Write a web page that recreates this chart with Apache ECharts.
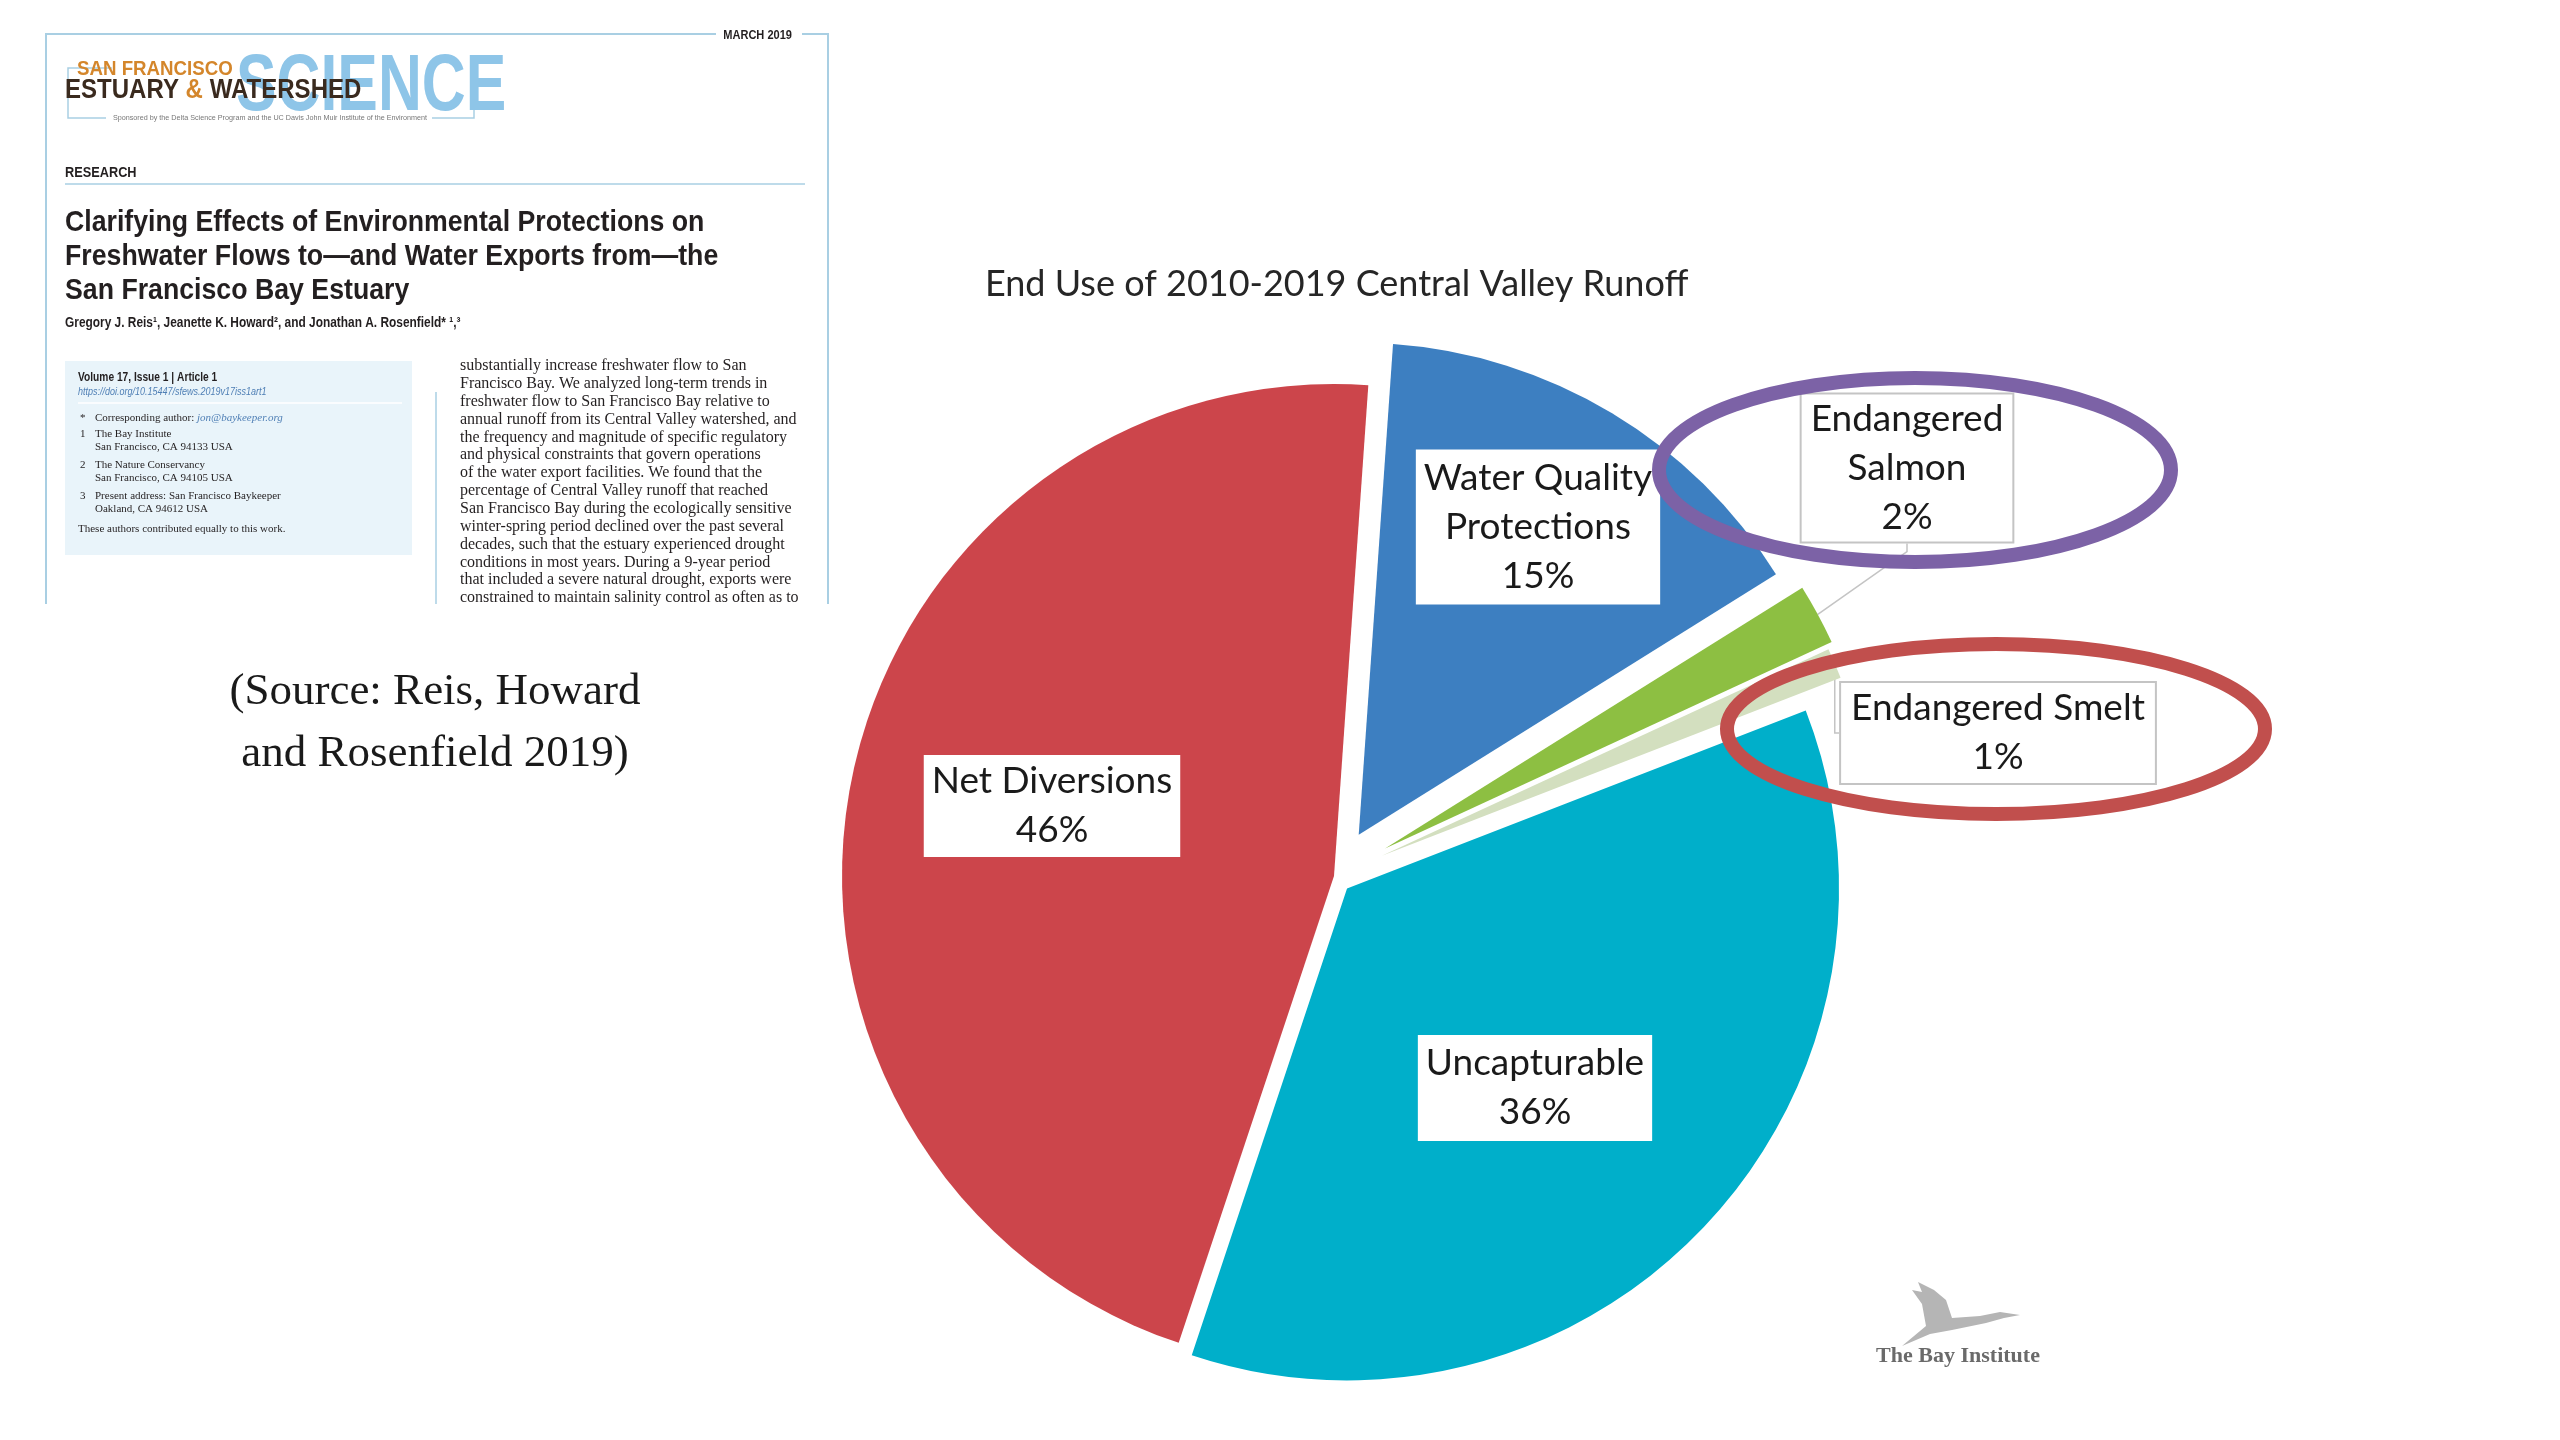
<!DOCTYPE html>
<html>
<head>
<meta charset="utf-8">
<title>End Use of 2010-2019 Central Valley Runoff</title>
<script src="https://cdn.jsdelivr.net/npm/echarts@6/dist/echarts.min.js"></script>
<style>
  html, body { margin: 0; padding: 0; background: #fff; }
  #main { width: 2560px; height: 1440px; }
</style>
</head>
<body>
<div id="main"></div>
<script>
// slices, clockwise from the top
var sliceNames = ['Water Quality\nProtections', 'Endangered\nSalmon', 'Endangered Smelt', 'Uncapturable', 'Net Diversions'];
var sliceValues = [15, 2, 1, 36, 46];

// look of each slice
var sliceColors = ['#3d7fc1', '#8dbf42', '#d3dfbf', '#00afca', '#cc454b'];
var sliceOffsets = [48, 58, 52, 18, 0];
var labelCenters = [[1538, 527], [1907, 468], [1998, 733], [1535, 1088], [1052, 806]];
var labelPads = [[4, 8], [0, 9], [1, 10], [4, 8], [2, 8]];

// journal page text on the left
var paperTitle = ['Clarifying Effects of Environmental Protections on',
    'Freshwater Flows to\u2014and Water Exports from\u2014the',
    'San Francisco Bay Estuary'];
var infoLines = [
    ['*', 'Corresponding author: ', 'jon@baykeeper.org'],
    ['1', 'The Bay Institute', ''],
    ['', 'San Francisco, CA 94133 USA', ''],
    ['2', 'The Nature Conservancy', ''],
    ['', 'San Francisco, CA 94105 USA', ''],
    ['3', 'Present address: San Francisco Baykeeper', ''],
    ['', 'Oakland, CA 94612 USA', '']
];
var infoY = [418, 434, 447, 465, 478, 496, 509];
var bodyLines = [
    'substantially increase freshwater flow to San',
    'Francisco Bay. We analyzed long-term trends in',
    'freshwater flow to San Francisco Bay relative to',
    'annual runoff from its Central Valley watershed, and',
    'the frequency and magnitude of specific regulatory',
    'and physical constraints that govern operations',
    'of the water export facilities. We found that the',
    'percentage of Central Valley runoff that reached',
    'San Francisco Bay during the ecologically sensitive',
    'winter-spring period declined over the past several',
    'decades, such that the estuary experienced drought',
    'conditions in most years. During a 9-year period',
    'that included a severe natural drought, exports were',
    'constrained to maintain salinity control as often as to'
];

var SANS = '"Liberation Sans", Arial, sans-serif';
var SERIF = '"Liberation Serif", "DejaVu Serif", serif';
var LABEL_FONT = 'Lato, "Open Sans", sans-serif';

var PIE_CENTER = [1334, 876];
var PIE_RADIUS = 492;
var START_ANGLE = 86;

var myChart = echarts.init(document.getElementById('main'));

function txt(x, y, s, size, opts) {
    opts = opts || {};
    return {
        type: 'text', x: x, y: y, z: opts.z || 10, silent: true,
        scaleX: opts.sx || 1,
        style: {
            text: s,
            fontSize: size,
            fontFamily: opts.family || SANS,
            fontWeight: opts.weight || 'normal',
            fontStyle: opts.style || 'normal',
            fill: opts.color || '#231f20',
            textAlign: opts.align || 'left',
            textVerticalAlign: 'middle'
        }
    };
}

// one pie series per slice, each pulled out along its own bisector
var total = 0;
for (var s = 0; s < sliceValues.length; s++) total += sliceValues[s];

function makeSeries(k, cum) {
    var data = [];
    for (var i = 0; i < sliceValues.length; i++) {
        var item = { name: sliceNames[i], value: sliceValues[i] };
        if (i === k) {
            item.itemStyle = { color: sliceColors[i] };
            item.label = { padding: labelPads[i] };
        } else {
            item.itemStyle = { color: 'rgba(0,0,0,0)' };
            item.label = { show: false };
            item.labelLine = { show: false };
        }
        data.push(item);
    }
    var mid = (START_ANGLE - 360 * (cum + sliceValues[k] / 2) / total) * Math.PI / 180;
    var outside = (k === 1 || k === 2);
    return {
        type: 'pie',
        center: [PIE_CENTER[0] + sliceOffsets[k] * Math.cos(mid), PIE_CENTER[1] - sliceOffsets[k] * Math.sin(mid)],
        radius: [0, PIE_RADIUS],
        startAngle: START_ANGLE,
        clockwise: true,
        percentPrecision: 0,
        avoidLabelOverlap: false,
        animation: false,
        silent: true,
        emphasis: { disabled: true },
        z: 2,
        label: {
            show: true,
            position: outside ? 'outside' : 'inside',
            formatter: '{b}\n{d}%',
            fontFamily: LABEL_FONT,
            fontSize: 37,
            lineHeight: 49,
            color: '#1a1a1a',
            align: 'center',
            backgroundColor: '#ffffff',
            borderColor: outside ? '#c4c4c4' : 'rgba(0,0,0,0)',
            borderWidth: outside ? 2 : 0
        },
        labelLine: {
            show: outside,
            length: 8,
            length2: 8,
            smooth: false,
            lineStyle: { color: '#c4c4c4', width: 1.5 }
        },
        labelLayout: function (params) {
            var c = labelCenters[params.dataIndex];
            return { x: c[0], y: c[1], align: 'center', verticalAlign: 'middle' };
        },
        data: data
    };
}

var series = [];
var cum = 0;
for (var k = 0; k < sliceValues.length; k++) {
    series.push(makeSeries(k, cum));
    cum += sliceValues[k];
}

// left page
var frameColor = '#a9cfe3';
var graphics = [
    { type: 'polyline', silent: true, shape: { points: [[46, 604], [46, 34], [716, 34]] }, style: { stroke: frameColor, lineWidth: 2, fill: null } },
    { type: 'polyline', silent: true, shape: { points: [[802, 34], [828, 34], [828, 604]] }, style: { stroke: frameColor, lineWidth: 2, fill: null } },
    txt(792, 35, 'MARCH 2019', 13, { weight: 'bold', align: 'right', sx: 0.85 }),
    // logo
    { type: 'polyline', silent: true, shape: { points: [[112, 68], [68, 68], [68, 118], [106, 118]] }, style: { stroke: frameColor, lineWidth: 1.5, fill: null } },
    { type: 'polyline', silent: true, shape: { points: [[432, 118], [474, 118], [474, 98]] }, style: { stroke: frameColor, lineWidth: 1.5, fill: null } },
    txt(236, 88, 'SCIENCE', 80, { weight: 'bold', color: '#8ec5e8', sx: 0.76 }),
    txt(77, 69, 'SAN FRANCISCO', 21, { weight: 'bold', color: '#d4862b', sx: 0.89 }),
    {
        type: 'text', x: 65, y: 91, z: 11, silent: true, scaleX: 0.89,
        style: {
            text: '{a|ESTUARY}{b| & }{a|WATERSHED}',
            textVerticalAlign: 'middle',
            rich: {
                a: { fontSize: 27, fontWeight: 'bold', fontFamily: SANS, fill: '#3a2a1e' },
                b: { fontSize: 27, fontWeight: 'bold', fontFamily: SANS, fill: '#d4862b' }
            }
        }
    },
    txt(270, 118, 'Sponsored by the Delta Science Program and the UC Davis John Muir Institute of the Environment', 8, { align: 'center', color: '#777', sx: 0.9 }),
    txt(65, 173, 'RESEARCH', 15, { weight: 'bold', sx: 0.85 }),
    { type: 'line', silent: true, shape: { x1: 65, y1: 184, x2: 805, y2: 184 }, style: { stroke: frameColor, lineWidth: 1.5 } },
    txt(65, 323, 'Gregory J. Reis\u00b9, Jeanette K. Howard\u00b2, and Jonathan A. Rosenfield* \u00b9,\u00b3', 14, { weight: 'bold', sx: 0.85 }),
    { type: 'rect', silent: true, shape: { x: 65, y: 361, width: 347, height: 194 }, style: { fill: '#e9f4fa' } },
    txt(78, 378, 'Volume 17, Issue 1 | Article 1', 12, { weight: 'bold', sx: 0.85 }),
    txt(78, 392, 'https://doi.org/10.15447/sfews.2019v17iss1art1', 10, { style: 'italic', color: '#4f7fb5', sx: 0.9 }),
    { type: 'line', silent: true, shape: { x1: 78, y1: 403, x2: 402, y2: 403 }, style: { stroke: '#ffffff', lineWidth: 1.5 } },
    txt(78, 529, 'These authors contributed equally to this work.', 11, { family: SERIF }),
    { type: 'line', silent: true, shape: { x1: 436, y1: 392, x2: 436, y2: 604 }, style: { stroke: frameColor, lineWidth: 1.5 } },
    txt(435, 692, '(Source: Reis, Howard', 45, { family: SERIF, align: 'center', color: '#1a1a1a' }),
    txt(435, 754, 'and Rosenfield 2019)', 45, { family: SERIF, align: 'center', color: '#1a1a1a' }),
    // annotation rings
    { type: 'ellipse', z: 20, silent: true, shape: { cx: 1915, cy: 470, rx: 256, ry: 92 }, style: { fill: null, stroke: '#7c62a6', lineWidth: 14 } },
    { type: 'ellipse', z: 20, silent: true, shape: { cx: 1996, cy: 729, rx: 269, ry: 85 }, style: { fill: null, stroke: '#c14f4d', lineWidth: 14 } },
    // Bay Institute mark
    {
        type: 'polygon', silent: true, z: 5,
        shape: { points: [[1902, 1346], [1926, 1326], [1922, 1304], [1912, 1290], [1922, 1292], [1918, 1282], [1934, 1290], [1946, 1300], [1952, 1318], [1980, 1316], [2000, 1312], [2020, 1315], [2004, 1318], [1986, 1323], [1952, 1330], [1930, 1334]] },
        style: { fill: '#b5b5b5' }
    },
    txt(1958, 1356, 'The Bay Institute', 22, { family: SERIF, align: 'center', color: '#6a6a6a', weight: 'bold' })
];
for (var t = 0; t < paperTitle.length; t++) {
    graphics.push(txt(65, 223 + t * 34, paperTitle[t], 30, { weight: 'bold', sx: 0.89 }));
}
for (var n = 0; n < infoLines.length; n++) {
    var ly = infoY[n];
    if (infoLines[n][0]) graphics.push(txt(80, ly, infoLines[n][0], 11, { family: SERIF }));
    graphics.push({
        type: 'text', x: 95, y: ly, z: 10, silent: true,
        style: {
            text: '{a|' + infoLines[n][1] + '}' + (infoLines[n][2] ? '{b|' + infoLines[n][2] + '}' : ''),
            textVerticalAlign: 'middle',
            rich: {
                a: { fontSize: 11, fontFamily: SERIF, fill: '#231f20' },
                b: { fontSize: 11, fontFamily: SERIF, fontStyle: 'italic', fill: '#4f7fb5' }
            }
        }
    });
}
for (var b = 0; b < bodyLines.length; b++) {
    graphics.push(txt(460, 366 + b * 17.85, bodyLines[b], 16, { family: SERIF }));
}

var option = {
    backgroundColor: '#ffffff',
    animation: false,
    title: {
        text: 'End Use of 2010-2019 Central Valley Runoff',
        left: 980,
        top: 261,
        textStyle: { fontFamily: LABEL_FONT, fontSize: 36, fontWeight: 'normal', color: '#262626' }
    },
    graphic: graphics,
    series: series
};

myChart.setOption(option);
window.onresize = function () {
    myChart.resize();
};
</script>
</body>
</html>
